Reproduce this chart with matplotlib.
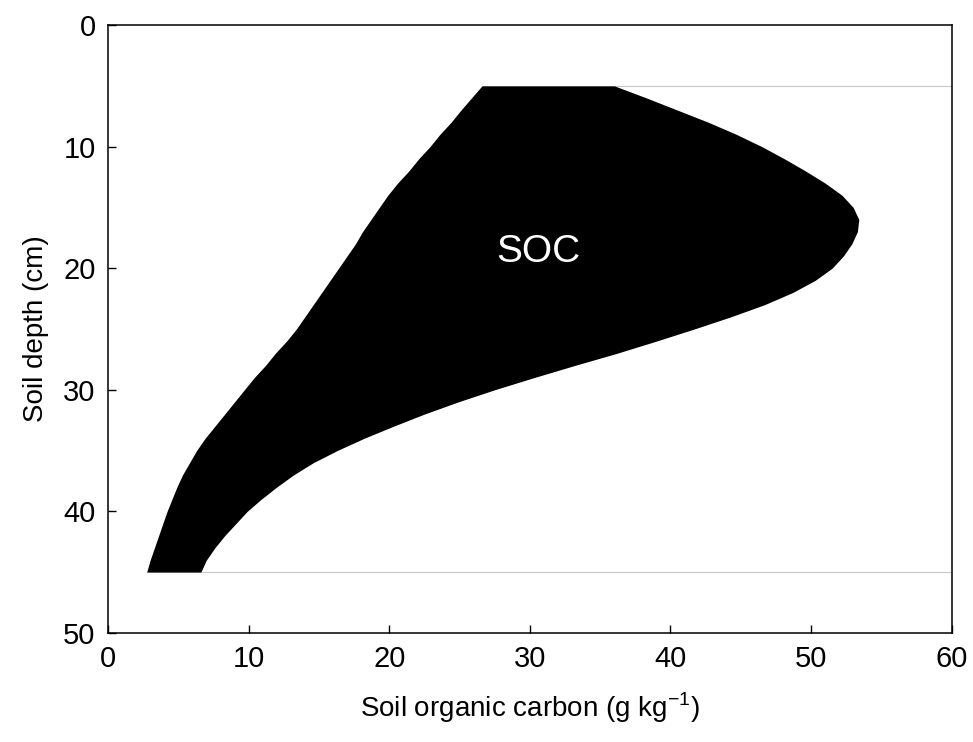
import numpy as np
import matplotlib.pyplot as plt

plt.rcParams['font.family'] = ['Liberation Sans', 'DejaVu Sans']

# depth (cm) and the left / right bounds of soil organic carbon (g/kg)
depth = list(range(5, 46))
soc_low = [26.6, 25.85, 25.1, 24.4, 23.6, 22.9, 22.1, 21.4, 20.6, 19.9,
           19.3, 18.7, 18.1, 17.6, 17.0, 16.4, 15.8, 15.2, 14.6, 14.0,
           13.4, 12.7, 11.9, 11.2, 10.4, 9.7, 9.0, 8.3, 7.6, 6.9,
           6.3, 5.8, 5.3, 4.9, 4.55, 4.2, 3.9, 3.6, 3.3, 3.0, 2.75]
soc_high = [36.0, 38.3, 40.5, 42.7, 44.7, 46.5, 48.1, 49.6, 51.0, 52.2,
            53.0, 53.4, 53.3, 52.9, 52.3, 51.5, 50.3, 48.7, 46.7, 44.3,
            41.7, 39.0, 36.2, 33.2, 30.3, 27.5, 24.9, 22.5, 20.3, 18.2,
            16.3, 14.6, 13.2, 12.0, 10.9, 9.9, 9.1, 8.3, 7.6, 7.0, 6.6]

fig = plt.figure(figsize=(9.73, 7.42), dpi=100)
ax = fig.add_axes([0.111, 0.147, 0.867, 0.8193])

# thin guide lines at the top and bottom sampled depths
ax.hlines([depth[0], depth[-1]], [soc_high[0], soc_high[-1]], 60,
          colors='#c8c8c8', linewidth=0.8, zorder=1)
ax.fill_betweenx(depth, soc_low, soc_high, color='black', linewidth=0, zorder=2)

ax.text(30.6, 18.7, 'SOC', color='white', fontsize=28, ha='center', va='center')

ax.set_xlim(0, 60)
ax.set_ylim(50, 0)
ax.set_xticks(np.arange(0, 61, 10))
ax.set_yticks(np.arange(0, 51, 10))
ax.tick_params(direction='in', length=6, width=1, labelsize=21, pad=9,
               top=False, right=False)
for s in ax.spines.values():
    s.set_linewidth(1.1)

ax.set_xlabel('Soil organic carbon (g kg$^{\\mathregular{-1}}$)', fontsize=20, labelpad=12)
ax.set_ylabel('Soil depth (cm)', fontsize=20, labelpad=10)

fig.savefig('out.png', dpi=100)
